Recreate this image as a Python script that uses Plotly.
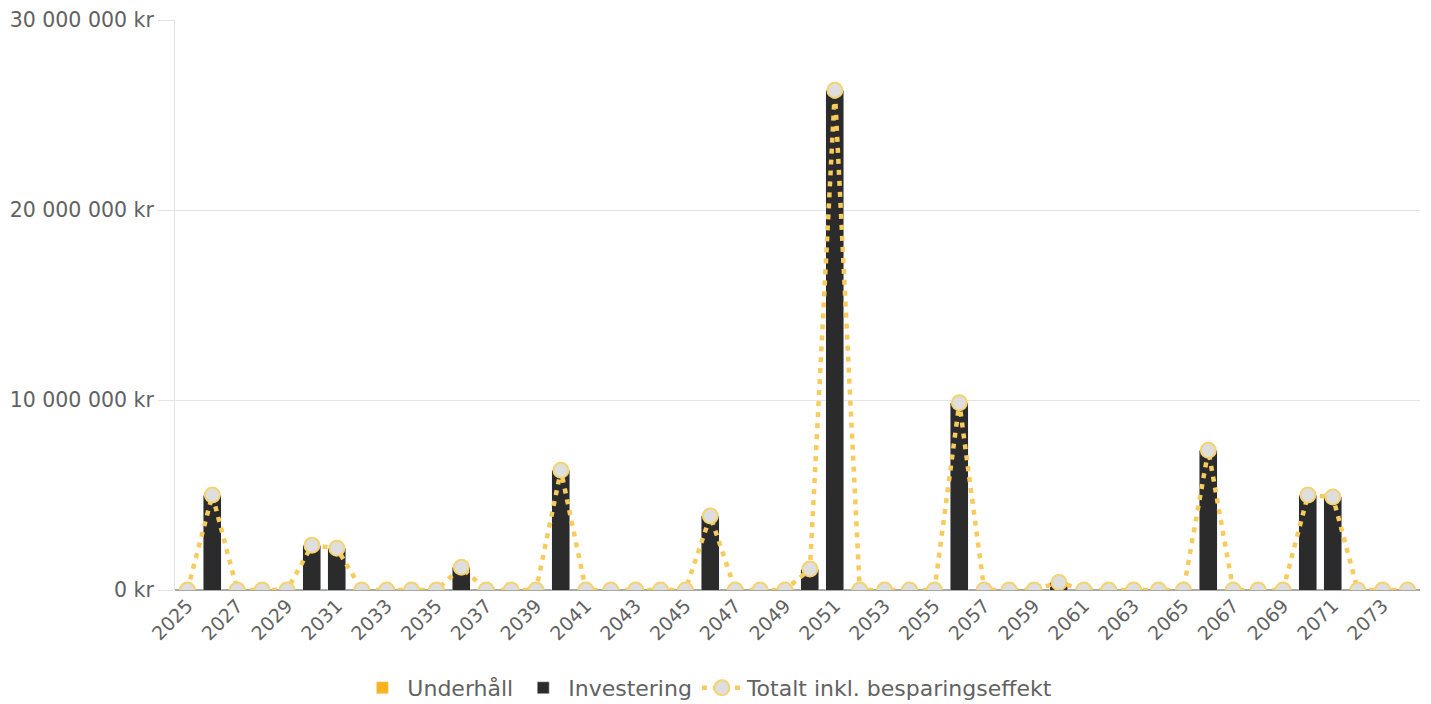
import plotly.graph_objects as go

years = list(range(2025, 2075))
investering_map = {2026: 5.0e6, 2030: 2.35e6, 2031: 2.2e6, 2036: 1.2e6, 2040: 6.3e6,
                   2046: 3.9e6, 2050: 1.1e6, 2051: 26.3e6, 2056: 9.85e6, 2060: 0.4e6,
                   2066: 7.35e6, 2070: 5.0e6, 2071: 4.9e6}
investering = [investering_map.get(y, 0) for y in years]
underhall = [0 for y in years]
totalt = [a + b for a, b in zip(investering, underhall)]

y_tickvals = [0, 10e6, 20e6, 30e6]
y_ticktext = ["0 kr", "10 000 000 kr", "20 000 000 kr", "30 000 000 kr"]
x_tickvals = list(range(2025, 2075, 2))

FONT = "DejaVu Sans, sans-serif"
TXT = "#626262"

fig = go.Figure()
fig.add_trace(go.Bar(x=years, y=underhall, name="Underhåll", marker_color="#F9B41C",
                     width=0.72))
fig.add_trace(go.Bar(x=years, y=investering, name="Investering", marker_color="#2B2B2B",
                     width=0.72))
fig.add_trace(go.Scatter(x=years, y=totalt, name="Totalt inkl. besparingseffekt",
                         mode="lines+markers",
                         line=dict(color="#F8CB5C", width=4.5, dash="5px,6px"),
                         marker=dict(size=15, color="#DEDEDE",
                                     line=dict(color="#F4D370", width=2))))

fig.update_layout(
    width=1423, height=696,
    barmode="stack",
    plot_bgcolor="white", paper_bgcolor="white",
    margin=dict(l=167, r=11, t=12, b=114, autoexpand=False),
    font=dict(family=FONT, color=TXT, size=20),
    showlegend=True,
    legend=dict(orientation="h", x=0.428, xanchor="center", y=-0.135, yanchor="top",
                font=dict(size=22, color=TXT), traceorder="normal", itemwidth=40),
)
fig.update_xaxes(range=[2024.5, 2074.5], tickmode="array", tickvals=x_tickvals,
                 ticktext=[str(v) for v in x_tickvals], tickangle=-45,
                 showgrid=False, showline=False, zeroline=False, automargin=False,
                 tickfont=dict(size=19, color=TXT), ticks="")
fig.update_yaxes(range=[0, 30e6], tickmode="array", tickvals=y_tickvals, ticktext=y_ticktext,
                 showgrid=True, gridcolor="#E3E3E3", gridwidth=1, automargin=False,
                 zeroline=True, zerolinecolor="#A8A8A8", zerolinewidth=1.5,
                 showline=True, linecolor="#E3E3E3", linewidth=1,
                 ticks="outside", ticklen=16, tickcolor="#E3E3E3",
                 tickfont=dict(size=20.5, color=TXT))

fig.write_html("out.html")
